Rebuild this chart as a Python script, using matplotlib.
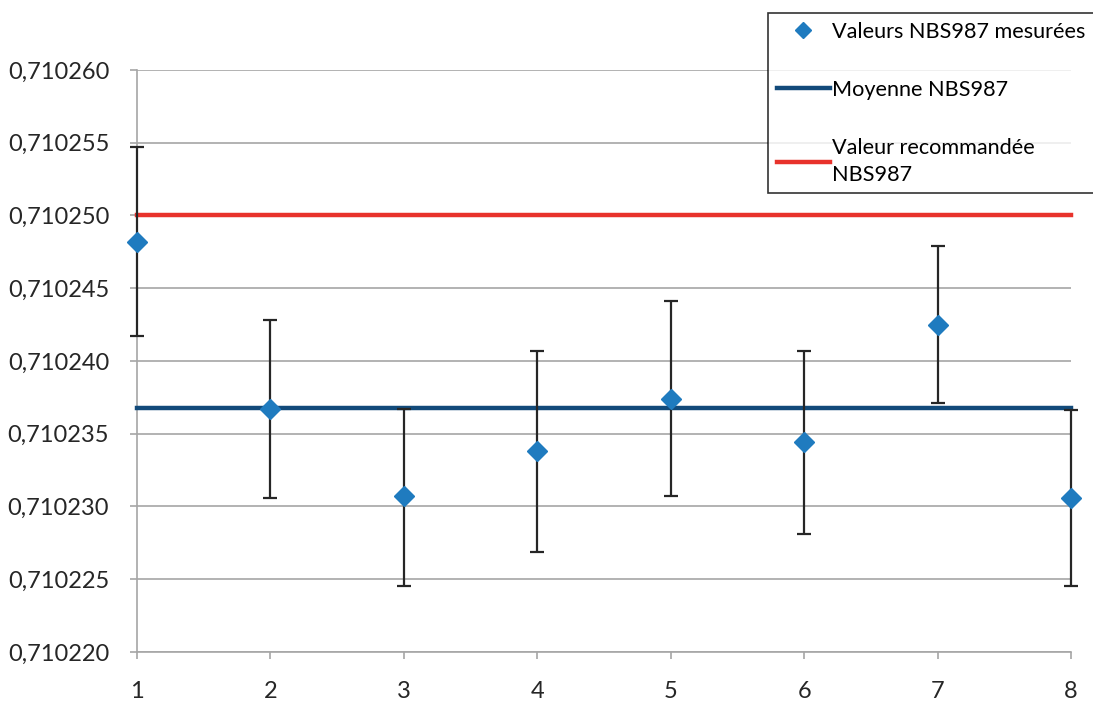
import numpy as np
import matplotlib.pyplot as plt
from matplotlib.ticker import FuncFormatter, MultipleLocator
from matplotlib.lines import Line2D

plt.rcParams['font.family'] = ['Lato', 'DejaVu Sans']

# mesures NBS987
analyses = [1, 2, 3, 4, 5, 6, 7, 8]
valeurs = [0.7102482, 0.7102367, 0.7102307, 0.7102338, 0.7102374, 0.7102344, 0.7102425, 0.7102306]
erreur_haut = [0.0000065, 0.0000061, 0.0000060, 0.0000069, 0.0000067, 0.0000063, 0.0000054, 0.0000060]
erreur_bas = [0.0000065, 0.0000061, 0.0000062, 0.0000069, 0.0000067, 0.0000063, 0.0000054, 0.0000061]
moyenne = 0.7102368
recommandee = 0.710250

fig = plt.figure(figsize=(10.93, 7.04), dpi=100)
ax = fig.add_axes([0.1253, 0.0739, 0.9799 - 0.1253, 0.9006 - 0.0739])

ax.plot([analyses[0], analyses[-1]], [recommandee, recommandee], color='#e8322b', lw=3.2,
        zorder=3, clip_on=False)
ax.plot([analyses[0], analyses[-1]], [moyenne, moyenne], color='#124a7a', lw=3.2,
        zorder=3, clip_on=False)
_, caps, barres = ax.errorbar(analyses, valeurs, yerr=[erreur_bas, erreur_haut], fmt='none',
                              ecolor='#262626', elinewidth=1.6, capsize=5, capthick=1.6, zorder=4)
for a in list(caps) + list(barres):
    a.set_clip_on(False)
ax.plot(analyses, valeurs, 'D', color='#1f7bbf', markersize=10, zorder=5, clip_on=False)

ax.set_xlim(1, 8)
ax.set_ylim(0.710220, 0.710260)
ax.yaxis.set_major_locator(MultipleLocator(0.000005))
ax.yaxis.set_major_formatter(FuncFormatter(lambda v, p: f"{v:.6f}".replace('.', ',')))
ax.set_xticks(analyses)

ax.grid(axis='y', color='#a6a6a6', lw=1.2, zorder=0)
for s in ['top', 'right']:
    ax.spines[s].set_visible(False)
for s in ['left', 'bottom']:
    ax.spines[s].set_color('#a6a6a6')
    ax.spines[s].set_linewidth(1.2)
ax.tick_params(colors='#a6a6a6', labelcolor='#262626', labelsize=17, length=5, width=1.2)
ax.tick_params(axis='x', pad=16)
ax.tick_params(axis='y', pad=15)

poignees = [
    Line2D([], [], ls='none', marker='D', color='#1f7bbf', markersize=8),
    Line2D([], [], color='#124a7a', lw=3.2),
    Line2D([], [], color='#e8322b', lw=3.2),
]
etiquettes = ['Valeurs NBS987 mesurées', 'Moyenne NBS987', 'Valeur recommandée\nNBS987']
leg = fig.legend(poignees, etiquettes, loc='upper left', bbox_to_anchor=(768 / 1093, 1 - 13 / 704),
                 fontsize=15.6, frameon=True, fancybox=False, edgecolor='#000000',
                 handlelength=2.45, handletextpad=0.1, labelspacing=1.75, borderpad=0.4,
                 borderaxespad=0)
leg.get_frame().set_linewidth(1.2)
for t in leg.get_texts():
    t.set_linespacing(1.45)

fig.savefig('out.png', dpi=100)
